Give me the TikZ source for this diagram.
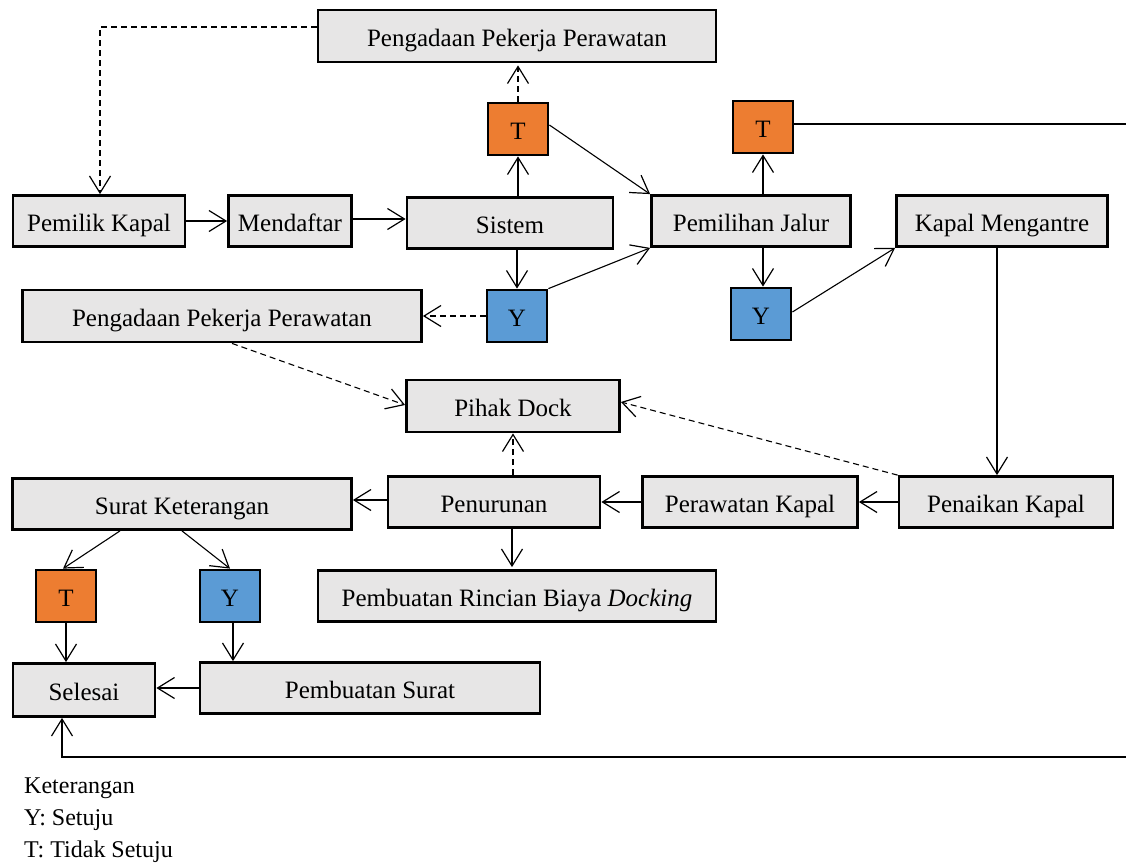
\documentclass[tikz,border=0pt]{standalone}
\usepackage{fontspec}
\setmainfont{Liberation Serif}
\usetikzlibrary{arrows.meta}
\definecolor{boxgray}{HTML}{E7E6E6}
\definecolor{torange}{HTML}{ED7D31}
\definecolor{yblue}{HTML}{5B9BD5}
\begin{document}
\begin{tikzpicture}[x=1pt,y=-1pt,
  box/.style={draw=black,line width=2.8pt,fill=boxgray,inner sep=0pt,text height=22pt,text depth=2pt,font=\fontsize{25}{28}\selectfont},
  tbox/.style={box,fill=torange,minimum width=60pt,minimum height=52pt},
  ybox/.style={box,fill=yblue,minimum width=60pt,minimum height=52pt},
  conn/.style={line width=1.1pt,-{Straight Barb[length=17pt,width=21pt,line width=1.2pt]}},
  plain/.style={line width=1.1pt},
  dconn/.style={conn,dash pattern=on 6pt off 4pt},
  legend/.style={anchor=west,inner sep=0pt,font=\fontsize{24}{27}\selectfont}]
\useasboundingbox (0,0) rectangle (1126,863);
% nodes
\node[box,minimum width=398pt,minimum height=52pt] (ppp1) at (517,36) {Pengadaan Pekerja Perawatan};
\node[tbox] (t1) at (518,129) {T};
\node[box,minimum width=172pt,minimum height=51pt] (pemilik) at (99,221) {Pemilik Kapal};
\node[box,minimum width=123pt,minimum height=51pt] (mendaftar) at (290,221) {Mendaftar};
\node[box,minimum width=206pt,minimum height=51pt] (sistem) at (510,223) {Sistem};
\node[box,minimum width=199pt,minimum height=51pt] (pj) at (751,221) {Pemilihan Jalur};
\node[tbox] (t2) at (763,127) {T};
\node[box,minimum width=211pt,minimum height=51pt] (km) at (1002,221) {Kapal Mengantre};
\node[ybox] (y1) at (517,316) {Y};
\node[box,minimum width=399pt,minimum height=52pt] (ppp2) at (222,316) {Pengadaan Pekerja Perawatan};
\node[ybox] (y2) at (761,314) {Y};
\node[box,minimum width=213pt,minimum height=52pt] (pihak) at (513,406) {Pihak Dock};
\node[box,minimum width=339pt,minimum height=51pt] (surat) at (182,504) {Surat Keterangan};
\node[box,minimum width=212pt,minimum height=51pt] (penurunan) at (494,502) {Penurunan};
\node[box,minimum width=215pt,minimum height=51pt] (perawatan) at (750,502) {Perawatan Kapal};
\node[box,minimum width=214pt,minimum height=51pt] (penaikan) at (1006,502) {Penaikan Kapal};
\node[box,minimum width=398pt,minimum height=51pt] (rincian) at (517,596) {Pembuatan Rincian Biaya \textit{Docking}};
\node[tbox] (t3) at (66,596) {T};
\node[ybox] (y3) at (230,596) {Y};
\node[box,minimum width=142pt,minimum height=53pt] (selesai) at (84,690) {Selesai};
\node[box,minimum width=340pt,minimum height=51pt] (ps) at (370,688) {Pembuatan Surat};
\coordinate (edgetop) at (1126,124);
\coordinate (edgebot) at (1126,757);
% legend
\node[legend] (leg1) at (24,788) {Keterangan};
\node[legend] (leg2) at (24,820) {Y: Setuju};
\node[legend] (leg3) at (24,852) {T: Tidak Setuju};
% connectors
\draw[dconn] ([yshift=9pt]ppp1.west) -| ([xshift=1pt]pemilik.north);
\draw[dconn] (t1.north) -- ([yshift=-2pt]t1.north |- ppp1.south);
\draw[conn] (t1.south |- sistem.north) -- (t1.south);
\draw[conn] (pemilik.east) -- (mendaftar.west);
\draw[conn] ([yshift=2pt]mendaftar.east) -- ([yshift=2pt]mendaftar.east -| sistem.west);
\draw[conn] (y1.north |- sistem.south) -- (y1.north);
\draw[conn] ([yshift=4pt]t1.east) -- (pj.north west);
\draw[conn] (y1.north east) -- (pj.south west);
\draw[conn] (t2.south |- pj.north) -- (t2.south);
\draw[conn] ([xshift=2pt]y2.north |- pj.south) -- ([xshift=2pt]y2.north);
\draw[conn] ([yshift=2pt]y2.east) -- (km.south west);
\draw[plain] ([yshift=3pt]t2.east) -- (edgetop);
\draw[conn] ([xshift=-5pt]km.south) -- ([xshift=-5pt]km.south |- penaikan.north);
\draw[dconn] (y1.west) -- (y1.west -| ppp2.east);
\draw[dconn] ([xshift=10pt]ppp2.south) -- ([yshift=1pt]pihak.west);
\draw[dconn] (penaikan.north west) -- ([yshift=4pt]pihak.east);
\draw[dconn] (pihak.south |- penurunan.north) -- (pihak.south);
\draw[conn] (penaikan.west) -- (perawatan.east);
\draw[conn] (perawatan.west) -- (penurunan.east);
\draw[conn] ([yshift=2pt]penurunan.west) -- ([yshift=2pt]penurunan.west -| surat.east);
\draw[conn] ([xshift=18pt]penurunan.south) -- ([xshift=18pt,yshift=2pt]penurunan.south |- rincian.north);
\draw[conn] ([xshift=-62pt]surat.south) -- ([xshift=-3pt]t3.north);
\draw[conn] (surat.south) -- (y3.north);
\draw[conn] (t3.south) -- (t3.south |- selesai.north);
\draw[conn] ([xshift=3pt]y3.south) -- ([xshift=3pt]y3.south |- ps.north);
\draw[conn] (ps.west) -- (ps.west -| selesai.east);
\draw[conn] (edgebot) -| ([xshift=-22pt]selesai.south);
\end{tikzpicture}
\end{document}
